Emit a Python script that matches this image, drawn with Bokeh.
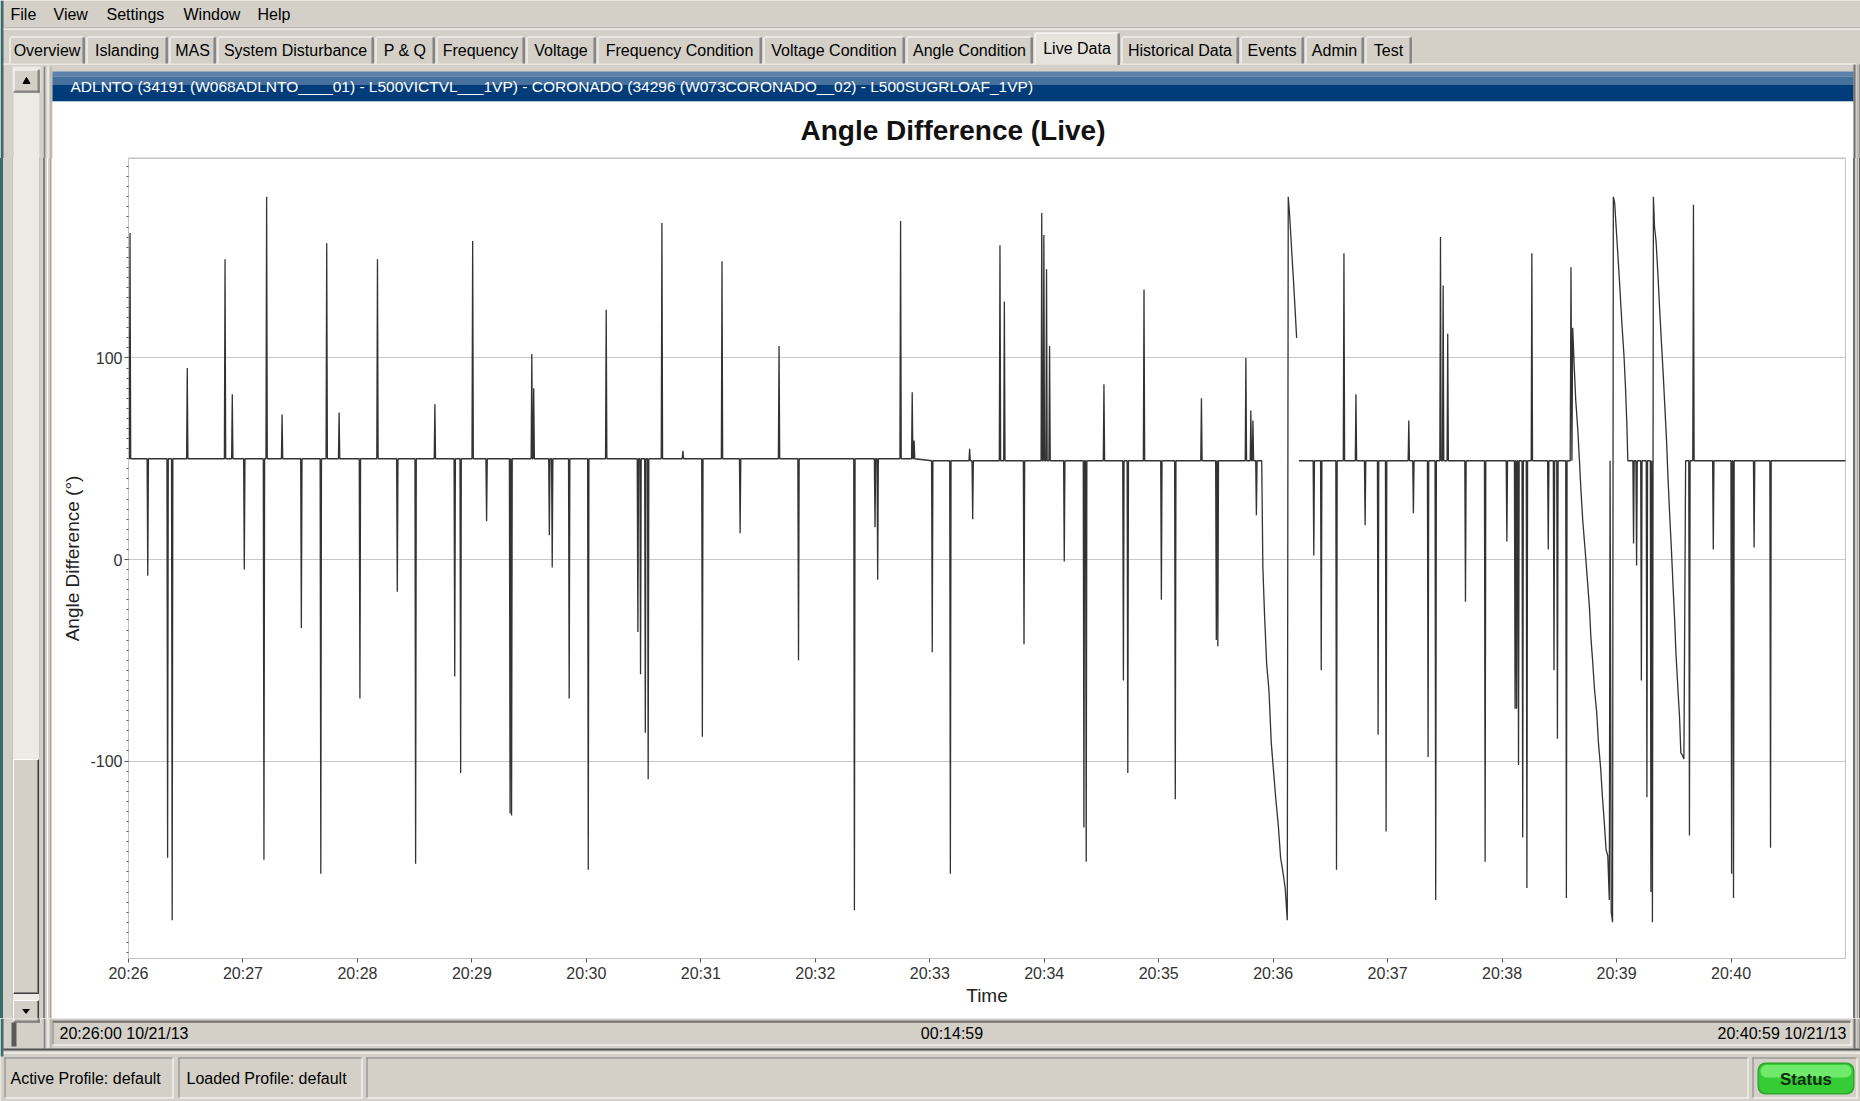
import numpy as np
import pandas as pd
from bokeh.plotting import figure
from bokeh.layouts import column, row
from bokeh.models import Range1d, FixedTicker, DatetimeTickFormatter, ColumnDataSource, Div
from bokeh.core.properties import value
from bokeh.embed import file_html
from bokeh.resources import INLINE

# ------------------------------------------------------------------ data
window_date = "2013-10-21"
window_start = "20:26:00"
window_end = "20:41:00"
x_tick_labels = ["20:26", "20:27", "20:28", "20:29", "20:30", "20:31", "20:32",
                 "20:33", "20:34", "20:35", "20:36", "20:37", "20:38", "20:39", "20:40"]
y_ticks = [-100, 0, 100]
y_tick_labels = ["-100", "0", "100"]
y_limits = [-198, 199]

baseline_early_deg = 50.0
baseline_late_deg = 49.0
baseline_change_sec = 420.0

# single-sample excursions (seconds after 20:26:00, degrees)
spike_sec = [0.8, 10.1, 20.5, 22.9, 30.8, 50.6, 54.4, 60.7, 71.0, 72.4, 80.5, 90.6,
             100.8, 103.9, 110.4, 121.3, 130.5, 140.9, 150.5, 160.6, 171.0, 174.1,
             180.4, 187.7, 200.0, 200.8, 211.4, 212.4, 220.6, 222.1, 231.0, 241.0,
             250.4, 267.0, 268.4, 270.9, 272.4, 279.6, 290.6, 300.8, 311.1, 320.6,
             341.0, 351.2,
             380.5, 391.3, 392.7, 404.7, 410.8, 411.8, 421.3, 430.8, 440.9, 442.5,
             456.8, 459.1, 469.4, 478.7, 479.8, 481.2, 482.8, 490.5, 500.8, 502.0,
             511.3, 521.5, 523.8, 532.3, 541.4,
             548.7, 562.4, 570.2, 571.0, 585.7, 588.3, 589.4, 591.2,
             621.3, 625.2, 633.2, 637.1, 643.4, 648.2, 655.0, 659.2, 671.1, 673.5,
             681.2, 685.2, 687.7, 689.1, 691.5, 700.8, 711.1, 722.5,
             726.8, 727.6, 728.6, 730.8, 733.0, 735.6, 744.2, 747.2, 749.0, 753.7,
             788.9, 790.5, 793.0, 795.9,
             818.2, 820.3, 830.7, 840.3, 841.3, 852.1, 860.7]
spike_deg = [162, -8, -148, -179, 95, 149, 82, -5, -149, 180, 72, -34,
             -156, 157, 73, -69, 149, -16, -151, 77, -58, -106,
             158, 19, -126, -127, 102, 85, 12, -4, -69, -154,
             124, -36, -57, -86, -109, 167, 54, -88, 148, 13,
             106, -50,
             -174, 16, -10, 168, 83, 59, -46, -156, 55, 20,
             156, 128, -42, 172, 161, 144, 106, -1, -133, -150,
             87, -60, -106, 134, -20,
             -119, 80, -40, -43, 100, 74, 69, 22,
             2, -55, -154, 152, 82, 17, -87, -135, 69, 23,
             -98, -169, 160, 136, 112, -21, -150, 9,
             -74, -74, -102, -138, -163, 152, 5, -55, -89, -168,
             8, -3, -60, -118,
             -137, 176, 5, -156, -168, 6, -143]

# angle slipping episodes
ramp1_sec = [594.0, 594.6, 595.5, 596.6, 597.8, 599.0, 600.2, 601.4, 602.7, 603.9,
             605.1, 606.3, 607.4, 607.9, 608.7, 609.6, 610.6, 611.5, 612.3]
ramp1_deg = [49, -4, -28, -52, -65, -91, -105, -119, -132, -148,
             -155, -163, -179, 180, 170, 155, 139, 124, 110]
ramp1_resume_sec = 613.5

ramp2_sec = [755.7, 756.1, 756.6, 757.0, 757.8, 758.6, 759.7, 760.6, 761.4, 762.3,
             763.5, 764.7, 765.8, 766.5, 767.5, 768.4, 769.6, 770.5, 771.7, 772.6,
             773.6, 774.5, 775.4, 776.2, 776.6, 777.2, 777.9, 778.3, 779.0, 779.9,
             780.9, 781.9, 782.8, 783.9, 784.7, 785.4, 785.9]
ramp2_deg = [49, 145, 49, 115, 96, 79, 64, 48, 33, 19,
             5, -10, -24, -38, -51, -64, -76, -91, -104, -118,
             -131, -144, -147, -169, 49, -175, -180, 180, 177, 163,
             148, 132, 117, 101, 85, 67, 49]

ramp3_sec = [797.7, 798.0, 798.4, 798.8, 799.3, 799.9, 800.7, 801.7, 802.6, 803.5,
             804.5, 805.4, 806.2, 806.9, 807.8, 808.7, 809.5, 810.4, 811.1, 812.2,
             813.0, 813.7, 814.4, 815.3, 816.2]
ramp3_deg = [49, -165, 49, -180, 180, 165, 158, 141, 124, 108,
             91, 74, 59, 42, 23, 6, -11, -29, -46, -65,
             -78, -96, -97, -99, 49]

series_end_sec = 900.5

# texts
chart_title = "Angle Difference (Live)"
y_label = "Angle Difference (\u00b0)"
x_label = "Time"
menu_items = ["File", "View", "Settings", "Window", "Help"]
tab_names = ["Overview", "Islanding", "MAS", "System Disturbance", "P & Q", "Frequency",
             "Voltage", "Frequency Condition", "Voltage Condition", "Angle Condition",
             "Live Data", "Historical Data", "Events", "Admin", "Test"]
selected_tab = "Live Data"
channel_text = ("ADLNTO (34191 (W068ADLNTO____01) - L500VICTVL___1VP) - "
                "CORONADO (34296 (W073CORONADO__02) - L500SUGRLOAF_1VP)")
range_start_text = "20:26:00 10/21/13"
range_span_text = "00:14:59"
range_end_text = "20:40:59 10/21/13"
status_texts = ["Active Profile: default", "Loaded Profile: default"]
status_button_text = "Status"

# ------------------------------------------------------------------ series
def base_level(t):
    return baseline_early_deg if t < baseline_change_sec else baseline_late_deg

ramps = {1: (ramp1_sec, ramp1_deg), 2: (ramp2_sec, ramp2_deg), 3: (ramp3_sec, ramp3_deg)}
events = [(t, "spike", v) for t, v in zip(spike_sec, spike_deg)]
events += [(ramps[k][0][0], "ramp", k) for k in ramps]
events.sort(key=lambda e: e[0])

sec = [0.0]
deg = [base_level(0.0)]
for t, kind, v in events:
    if kind == "spike":
        sec += [t - 0.35, t, t + 0.35]
        deg += [base_level(t), v, base_level(t)]
    else:
        rs, rd = ramps[v]
        sec += list(rs)
        deg += list(rd)
        if v == 1:
            sec += [(rs[-1] + ramp1_resume_sec) / 2.0, ramp1_resume_sec]
            deg += [float("nan"), base_level(ramp1_resume_sec)]
sec.append(series_end_sec)
deg.append(base_level(series_end_sec))

def to_ms(hms):
    return pd.Timestamp(window_date + " " + hms).value / 1e6

t0 = to_ms(window_start)
t1 = to_ms(window_end)
x_ms = np.array([t0 + s * 1000.0 for s in sec])
y_deg = np.array(deg, dtype=float)
x_tick_ms = [to_ms(lab + ":00") for lab in x_tick_labels]

# ------------------------------------------------------------------ styles
UI = "#D4D0C8"
DARK = "#808080"
DARKER = "#404040"
WHITE = "#FFFFFF"
TEAL = "#3A6C6E"
TRACK = "#ECEAE5"
FRAME_GRAY = "#C4C4C4"
FONT = "Liberation Sans"

PAGE_W, PAGE_H = 1860, 1101
TOP_H = 158                # menu, tabs, caption bar and chart title area
MID_H = 1018 - TOP_H       # plot row
BOT_H = PAGE_H - 1018
LEFT_W, RIGHT_W = 52, 7
CHART_W = PAGE_W - LEFT_W - RIGHT_W
RX = PAGE_W
PANEL_R = PAGE_W - RIGHT_W


def canvas(w, h, x0, y0):
    f = figure(width=w, height=h, x_range=Range1d(x0, x0 + w), y_range=Range1d(y0 + h, y0),
               x_axis_type=None, y_axis_type=None, toolbar_location=None,
               output_backend="svg", min_border=0)
    f.grid.visible = False
    f.outline_line_color = None
    f.background_fill_color = UI
    f.border_fill_color = UI
    return f


def box(f, l, r, t, b, color):
    f.quad(left=[l], right=[r], top=[t], bottom=[b], fill_color=color, line_color=None)


def seg(f, x0, y0, x1, y1, color, w=1):
    f.segment(x0=[x0], y0=[y0], x1=[x1], y1=[y1], line_color=color, line_width=w)


def txt(f, x, y, s, size="16px", align="left", color="#000000", style="normal"):
    f.text(x=[x], y=[y], text=[s], text_font=value(FONT), text_font_size=size,
           text_align=align, text_baseline="middle", text_color=color,
           text_font_style=style)


def sunken(f, l, r, t, b):
    seg(f, l, t + 0.5, r, t + 0.5, DARK)
    seg(f, l + 0.5, t, l + 0.5, b, DARK)
    seg(f, l, b - 0.5, r, b - 0.5, WHITE)
    seg(f, r - 0.5, t, r - 0.5, b, WHITE)


def raised(f, l, r, t, b):
    box(f, l, r, t, b, UI)
    seg(f, l, t + 0.5, r, t + 0.5, WHITE)
    seg(f, l + 0.5, t, l + 0.5, b, WHITE)
    seg(f, l, b - 0.5, r, b - 0.5, DARKER)
    seg(f, r - 0.5, t, r - 0.5, b, DARKER)
    seg(f, l + 1, b - 1.5, r - 1, b - 1.5, DARK)
    seg(f, r - 1.5, t + 1, r - 1.5, b - 1, DARK)


def splitter(f, t, b):
    seg(f, 44, t, 44, b, DARK, 1.5)
    seg(f, 47.5, t, 47.5, b, WHITE)
    seg(f, 50.5, t, 50.5, b, "#A8A49C")


def right_border(f, t, b):
    seg(f, RX - 6, t, RX - 6, b, "#707070", 2)
    seg(f, RX - 2.5, t, RX - 2.5, b, "#A8A49C")
    seg(f, RX - 0.5, t, RX - 0.5, b, "#606060")


# ------------------------------------------------------------------ top strip
top = canvas(PAGE_W, TOP_H, 0, 0)
box(top, 0, 3, 0, TOP_H, TEAL)
for name, x in zip(menu_items, [10, 53, 106, 183, 257]):
    txt(top, x, 13.5, name)
seg(top, 3, 27.5, RX, 27.5, "#A8A49C")
seg(top, 3, 28.5, RX, 28.5, WHITE)
seg(top, 3, 63.5, RX - 4, 63.5, WHITE)

tab_edges = [8, 85, 168, 216, 374, 435, 525, 596, 762, 905, 1033, 1120, 1239, 1304, 1364, 1412]
for i, name in enumerate(tab_names):
    l, r = tab_edges[i], tab_edges[i + 1]
    sel = (name == selected_tab)
    tt = 32 if sel else 36
    bb = 64.5 if sel else 63
    box(top, l + 1, r - 1, tt, bb, "#E6E3DC" if sel else UI)
    seg(top, l + 2, tt + 0.5, r - 2, tt + 0.5, WHITE)
    seg(top, l + 1.5, tt + 1, l + 1.5, bb, WHITE)
    seg(top, r - 1.5, tt + 1, r - 1.5, bb, DARKER)
    seg(top, r - 2.5, tt + 1, r - 2.5, bb, DARK)
    txt(top, (l + r) / 2.0, (tt + 63) / 2.0 + 0.5, name, align="center")

box(top, 12, 40, 66, TOP_H, TRACK)
seg(top, 12.5, 92, 12.5, TOP_H, "#C8C4BC")
seg(top, 39.5, 92, 39.5, TOP_H, "#C8C4BC")
raised(top, 13, 39, 69, 92)
top.scatter(x=[26], y=[81], marker="triangle", size=7, color="#000000")
splitter(top, 66, TOP_H)
# caption bar
box(top, 52, PANEL_R, 71, 76, "#5A80AB")
box(top, 52, PANEL_R, 76, 84, "#46709E")
box(top, 52, PANEL_R, 84, 101, "#013C7A")
txt(top, 70, 86, channel_text, size="15.5px", color="#FFFFFF")
# white chart panel with title, down to the plot frame
box(top, 52, PANEL_R, 101, TOP_H, WHITE)
seg(top, 128, TOP_H - 0.5, 1845, TOP_H - 0.5, FRAME_GRAY)
seg(top, 1844.5, TOP_H - 1, 1844.5, TOP_H, FRAME_GRAY)
txt(top, 952.5, 129.5, chart_title, size="28px", align="center", color="#111111", style="bold")
right_border(top, 64, TOP_H)

# ------------------------------------------------------------------ side strips (plain HTML chrome)
def css(l, t, w, h, bg, extra=""):
    return ('<div style="position:absolute;left:%spx;top:%spx;width:%spx;height:%spx;'
            'background:%s;box-sizing:border-box;%s"></div>' % (l, t, w, h, bg, extra))

BTN = ("border-top:1px solid #FFFFFF;border-left:1px solid #FFFFFF;"
       "border-bottom:1px solid #404040;border-right:1px solid #404040;"
       "box-shadow:inset -1px -1px 0 #808080;")
tri_down = ('<div style="position:absolute;left:22px;top:%spx;width:0;height:0;'
            'border-left:4px solid transparent;border-right:4px solid transparent;'
            'border-top:5px solid #000000;"></div>' % (1000 - TOP_H + 9))
left_html = ('<div style="position:relative;width:%spx;height:%spx;overflow:hidden;background:%s">'
             % (LEFT_W, MID_H, UI)
             + css(0, 0, 3, MID_H, TEAL)
             + css(12, 0, 28, MID_H, TRACK,
                   "border-left:1px solid #C8C4BC;border-right:1px solid #C8C4BC;")
             + css(13, 759 - TOP_H, 26, 994 - 759, UI, BTN)
             + css(13, 1000 - TOP_H, 26, 22, UI, BTN)
             + tri_down
             + css(43, 0, 2, MID_H, DARK)
             + css(47, 0, 1, MID_H, WHITE)
             + css(50, 0, 1, MID_H, "#A8A49C")
             + '</div>')
left = Div(text=left_html, width=LEFT_W, height=MID_H, margin=0,
           styles={"overflow": "hidden", "padding": "0px"})

right_html = ('<div style="position:relative;width:%spx;height:%spx;overflow:hidden;background:%s">'
              % (RIGHT_W, MID_H, UI)
              + css(0, 0, 2, MID_H, "#707070")
              + css(4, 0, 1, MID_H, "#A8A49C")
              + css(6, 0, 1, MID_H, "#606060")
              + '</div>')
right = Div(text=right_html, width=RIGHT_W, height=MID_H, margin=0,
            styles={"overflow": "hidden", "padding": "0px"})

# ------------------------------------------------------------------ chart
p = figure(width=CHART_W, height=MID_H, x_axis_type="datetime",
           x_range=Range1d(t0, t1), y_range=Range1d(y_limits[0], y_limits[1]),
           toolbar_location=None, output_backend="svg",
           min_border_left=76, min_border_right=8, min_border_top=0, min_border_bottom=60)
try:
    p.title = None
except Exception:
    p.title.text = ""
p.background_fill_color = "#FFFFFF"
p.border_fill_color = "#FFFFFF"
p.outline_line_color = FRAME_GRAY

src = ColumnDataSource(dict(x=x_ms, y=y_deg))
p.line("x", "y", source=src, line_color="#333333", line_width=1.3)

p.yaxis.ticker = FixedTicker(ticks=y_ticks, minor_ticks=list(range(-195, 200, 5)))
p.yaxis.major_label_overrides = {t: s for t, s in zip(y_ticks, y_tick_labels)}
p.xaxis.ticker = FixedTicker(ticks=x_tick_ms, minor_ticks=[])
fmt = "%H:%M"
p.xaxis.formatter = DatetimeTickFormatter(milliseconds=fmt, seconds=fmt, minsec=fmt,
                                          minutes=fmt, hourmin=fmt, hours=fmt)
for ax in (p.xaxis, p.yaxis):
    ax.axis_line_color = FRAME_GRAY
    ax.major_tick_line_color = "#555555"
    ax.major_tick_in = 0
    ax.major_tick_out = 4
    ax.major_label_text_font = FONT
    ax.major_label_text_font_size = "16px"
    ax.major_label_text_color = "#333333"
    ax.major_label_standoff = 2
    ax.axis_label_text_font = FONT
    ax.axis_label_text_font_size = "19px"
    ax.axis_label_text_font_style = "normal"
    ax.axis_label_text_color = "#222222"
p.yaxis.minor_tick_line_color = "#555555"
p.yaxis.minor_tick_in = 0
p.yaxis.minor_tick_out = 2
p.xaxis.minor_tick_line_color = None
p.yaxis.axis_label = y_label
p.xaxis.axis_label = x_label
p.yaxis.axis_label_standoff = 4
p.xaxis.axis_label_standoff = 0
p.xgrid.visible = False
p.ygrid.grid_line_color = "#C8C8C8"
p.ygrid.grid_line_width = 1

# ------------------------------------------------------------------ bottom strip
Y0 = 1018
bot = canvas(PAGE_W, BOT_H, 0, Y0)
box(bot, 0, 3, Y0, 1056, TEAL)
box(bot, 12, 40, Y0, 1022, TRACK)
raised(bot, 13, 39, 1000, 1022)
box(bot, 11, 16, 1022, 1046, "#5A5A5A")
splitter(bot, Y0, 1048)
right_border(bot, Y0, 1048)
box(bot, 52, PANEL_R - 2, 1020, 1045, UI)
sunken(bot, 52, PANEL_R - 2, 1020, 1045)
seg(bot, 53, 1021.5, PANEL_R - 3, 1021.5, DARKER)
txt(bot, 59, 1033, range_start_text)
txt(bot, (52 + PANEL_R) / 2.0 - 1, 1033, range_span_text, align="center")
txt(bot, PANEL_R - 7, 1033, range_end_text, align="right")
seg(bot, 3, 1049, RX, 1049, "#505050", 2)
seg(bot, 3, 1052.5, RX, 1052.5, WHITE)
panels = [(4, 173), (178, 362), (366, 1748), (1752, 1857)]
for l, r in panels:
    sunken(bot, l, r, 1057, 1098)
txt(bot, 10, 1078, status_texts[0])
txt(bot, 186, 1078, status_texts[1])
try:
    bot.quad(left=[1757], right=[1854], top=[1062], bottom=[1094], fill_color="#2FA52F",
             line_color=None, border_radius=8)
    bot.quad(left=[1758.5], right=[1852.5], top=[1063.5], bottom=[1092.5], fill_color="#35CC35",
             line_color=None, border_radius=7)
    bot.quad(left=[1760], right=[1851], top=[1064.5], bottom=[1077], fill_color="#6FEA6A",
             line_color=None, border_radius=6)
except Exception:
    box(bot, 1757, 1854, 1062, 1094, "#2FA52F")
    box(bot, 1758.5, 1852.5, 1063.5, 1092.5, "#35CC35")
    box(bot, 1760, 1851, 1064.5, 1077, "#6FEA6A")
txt(bot, 1805.5, 1078.5, status_button_text, size="17px", align="center",
    color="#0E2A0E", style="bold")

layout = column(top, row(left, p, right), bot)
open("out.html", "w").write(file_html(layout, INLINE))
